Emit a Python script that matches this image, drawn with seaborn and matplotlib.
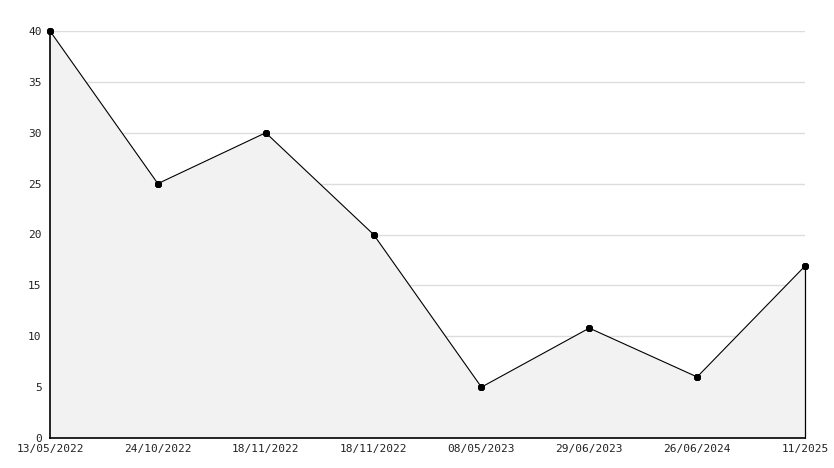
import matplotlib
matplotlib.use("Agg")
import matplotlib.pyplot as plt
import numpy as np
import pandas as pd
import seaborn as sns
from matplotlib.ticker import MultipleLocator

DATES = [
    "13/05/2022",
    "24/10/2022",
    "18/11/2022",
    "18/11/2022",
    "08/05/2023",
    "29/06/2023",
    "26/06/2024",
    "11/2025",
]
VALUES = [40, 25, 30, 20, 5, 10.8, 6, 16.9]

df = pd.DataFrame({"pos": np.arange(len(DATES)), "value": VALUES})

sns.set_style("white")
plt.rcParams["font.family"] = ["DejaVu Sans Mono"]

fig = plt.figure(figsize=(8.34, 4.68), dpi=100)
ax = fig.add_axes([50 / 834, 1 - 438 / 468, 755 / 834, 407 / 468])

ax.fill_between(df["pos"], df["value"], 0, color="#f2f2f2", linewidth=0, zorder=1)
ax.plot([df["pos"].iloc[-1]] * 2, [0, df["value"].iloc[-1]], color="black",
        lw=0.9, zorder=2, clip_on=False)
sns.lineplot(data=df, x="pos", y="value", color="black", linewidth=0.8,
             marker=(8, 2, 0), markersize=5, markeredgewidth=1.6,
             markeredgecolor="black", ax=ax, zorder=3, clip_on=False)

ax.set_xlim(0, len(DATES) - 1)
ax.set_ylim(0, 40)
ax.set_xticks(df["pos"])
ax.set_xticklabels(DATES)
ax.yaxis.set_major_locator(MultipleLocator(5))
ax.yaxis.set_minor_locator(MultipleLocator(1))
ax.grid(axis="y", which="major", color="#dddddd", linewidth=1, zorder=0)
ax.set_axisbelow(True)

for side in ["top", "right"]:
    ax.spines[side].set_visible(False)
for side in ["left", "bottom"]:
    ax.spines[side].set_color("black")
    ax.spines[side].set_linewidth(1.2)

ax.tick_params(axis="y", which="major", direction="in", length=5, width=1,
               color="black", labelsize=8, labelcolor="#222222", pad=6)
ax.tick_params(axis="x", which="major", direction="in", length=5, width=1,
               color="black", labelsize=8, labelcolor="#222222", pad=4)
ax.tick_params(axis="y", which="minor", direction="in", length=3, width=1, color="black")
ax.set_xlabel("")
ax.set_ylabel("")

fig.savefig("out.png", dpi=100)
